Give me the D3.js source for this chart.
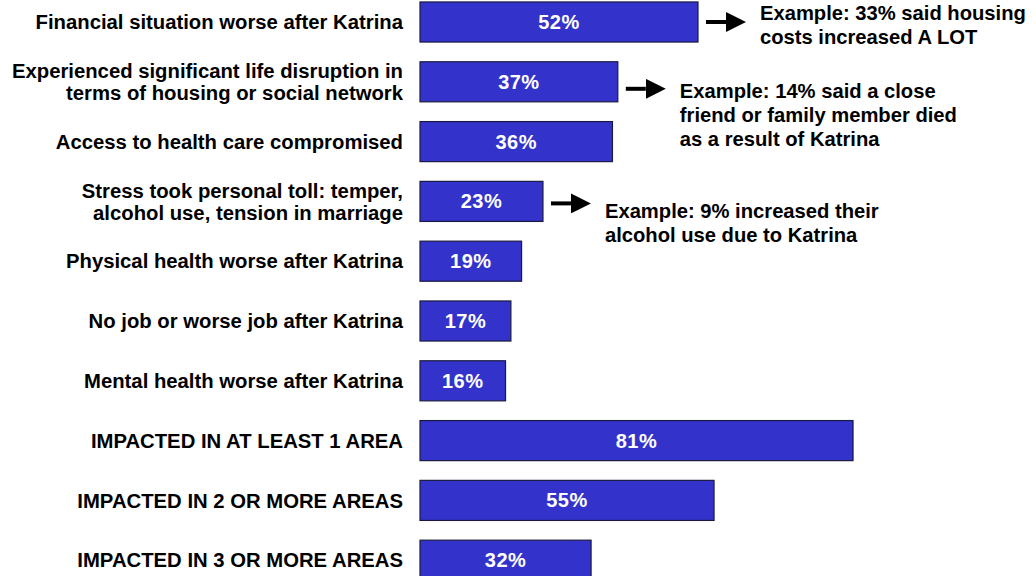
<!DOCTYPE html>
<html>
<head>
<meta charset="utf-8">
<script src="https://cdn.jsdelivr.net/npm/d3@7"></script>
<style>
  body { margin: 0; background: #fff; }
  svg { display: block; font-family: "Liberation Sans", Arial, sans-serif; font-weight: bold; }
</style>
</head>
<body>
<div id="chart"></div>
<script>
// DATA
const categories = [
  ["Financial situation worse after Katrina"],
  ["Experienced significant life disruption in", "terms of housing or social network"],
  ["Access to health care compromised"],
  ["Stress took personal toll: temper,", "alcohol use, tension in marriage"],
  ["Physical health worse after Katrina"],
  ["No job or worse job after Katrina"],
  ["Mental health worse after Katrina"],
  ["IMPACTED IN AT LEAST 1 AREA"],
  ["IMPACTED IN 2 OR MORE AREAS"],
  ["IMPACTED IN 3 OR MORE AREAS"]
];
const values = [52, 37, 36, 23, 19, 17, 16, 81, 55, 32];

// callouts: which bar they point from, and their text lines
const noteBars = [0, 1, 3];
const noteLines = [
  ["Example: 33% said housing", "costs increased A LOT"],
  ["Example: 14% said a close", "friend or family member died", "as a result of Katrina"],
  ["Example: 9% increased their", "alcohol use due to Katrina"]
];

// SETUP
const width = 1036;
const height = 576;
const svg = d3.select("#chart").append("svg")
  .attr("width", width)
  .attr("height", height);

const keys = d3.range(categories.length);

const x = d3.scaleLinear()
  .domain([0, 100])
  .range([420, 954.6]);

const y = d3.scaleBand()
  .domain(keys)
  .range([-7.9, 590.1])
  .paddingInner(0.33)
  .paddingOuter(0.165);

const mid = i => y(i) + y.bandwidth() / 2;

// BARS
svg.selectAll(".bar")
  .data(keys)
  .enter().append("rect")
  .attr("class", "bar")
  .attr("x", x(0))
  .attr("y", i => y(i))
  .attr("width", i => x(values[i]) - x(0))
  .attr("height", y.bandwidth())
  .attr("fill", "#3333cc")
  .attr("stroke", "#1a1a40")
  .attr("stroke-width", 1.2);

// VALUE LABELS
svg.selectAll(".val")
  .data(keys)
  .enter().append("text")
  .attr("class", "val")
  .attr("x", i => (x(0) + x(values[i])) / 2)
  .attr("y", mid)
  .attr("dy", "0.35em")
  .attr("text-anchor", "middle")
  .attr("fill", "#fff")
  .attr("font-size", 20)
  .attr("letter-spacing", 0.5)
  .text(i => values[i] + "%");

// CATEGORY LABELS
const lineH = 22;
const cat = svg.selectAll(".cat")
  .data(keys)
  .enter().append("text")
  .attr("class", "cat")
  .attr("text-anchor", "end")
  .attr("font-size", 20.3)
  .attr("fill", "#000");

cat.selectAll("tspan")
  .data(i => categories[i].map((t, j) => ({ t, j, n: categories[i].length, i })))
  .enter().append("tspan")
  .attr("x", 403)
  .attr("y", d => mid(d.i) + (d.j - (d.n - 1) / 2) * lineH)
  .attr("dy", "0.35em")
  .text(d => d.t);

// CALLOUT ARROWS
svg.append("defs").append("marker")
  .attr("id", "head")
  .attr("viewBox", "0 0 10 10")
  .attr("refX", 0)
  .attr("refY", 5)
  .attr("markerWidth", 5)
  .attr("markerHeight", 5)
  .attr("markerUnits", "strokeWidth")
  .attr("orient", "auto")
  .append("path")
  .attr("d", "M0,0L10,5L0,10Z")
  .attr("fill", "#000");

const arrowShift = [0, 7, 2];   // arrow y offset from bar centre
const textShift = [-2, 16.3, 16.3]; // first baseline offset from bar centre

const notes = svg.selectAll(".note")
  .data(noteBars)
  .enter().append("g")
  .attr("class", "note");

notes.append("line")
  .attr("x1", b => x(values[b]) + 8)
  .attr("x2", b => x(values[b]) + 28)
  .attr("y1", (b, k) => mid(b) + arrowShift[k])
  .attr("y2", (b, k) => mid(b) + arrowShift[k])
  .attr("stroke", "#000")
  .attr("stroke-width", 4)
  .attr("marker-end", "url(#head)");

notes.append("text")
  .attr("font-size", 20.2)
  .attr("fill", "#000")
  .selectAll("tspan")
  .data((b, k) => noteLines[k].map((t, j) => ({ t, j, b, k })))
  .enter().append("tspan")
  .attr("x", d => x(values[d.b]) + 62)
  .attr("y", d => mid(d.b) + textShift[d.k] + d.j * 23.8)
  .text(d => d.t);
</script>
</body>
</html>
